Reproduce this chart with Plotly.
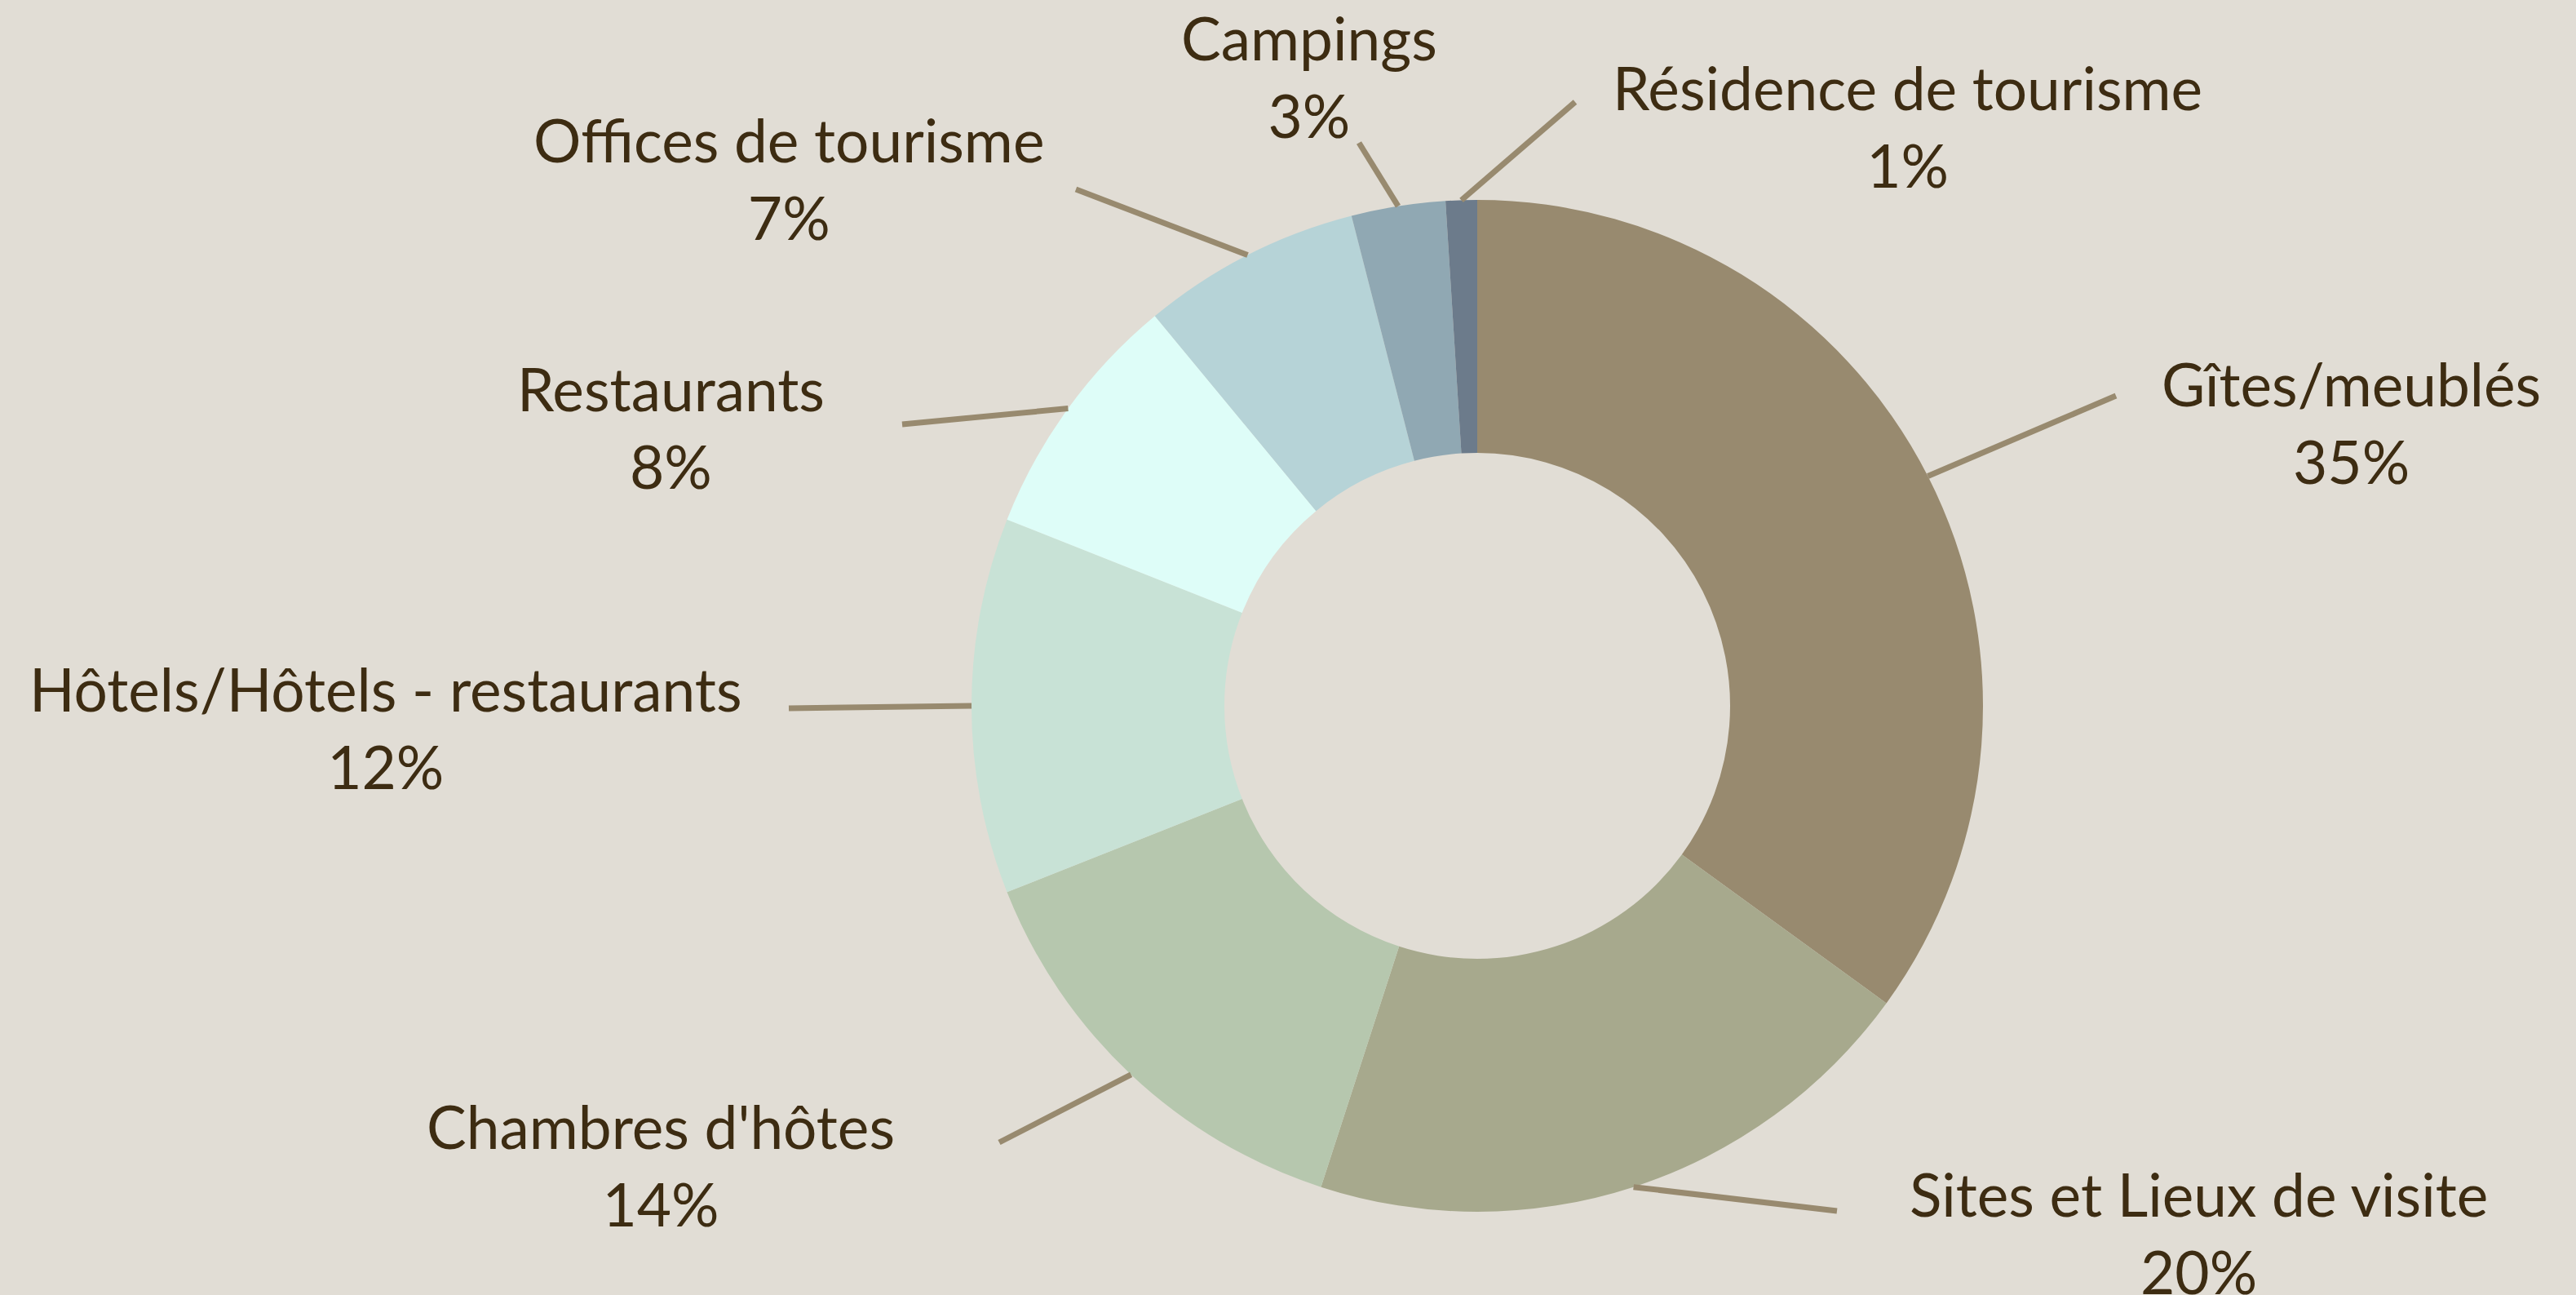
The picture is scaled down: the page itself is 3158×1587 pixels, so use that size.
import math
import plotly.graph_objects as go

# data
labels = ["Gîtes/meublés", "Sites et Lieux de visite", "Chambres d'hôtes",
          "Hôtels/Hôtels - restaurants", "Restaurants", "Offices de tourisme",
          "Campings", "Résidence de tourisme"]
values = [35, 20, 14, 12, 8, 7, 3, 1]
colors = ["#988A6F", "#A7A98D", "#B6C7AE", "#C8E2D6",
          "#DEFDF8", "#B6D3D7", "#90A8B3", "#6C7B8B"]

W, H = 3158, 1587
BG = "#E1DDD5"
TEXT = "#3D2C12"
LINE = "#988A6F"

# donut geometry (px)
cx, cy, R = 1811, 865, 620

# where each leader ends and where its label sits (px)
line_ends = [(2594, 485), (2252, 1484), (1225, 1400), (967, 868),
             (1106, 520), (1319, 232), (1666, 175), (1931, 125)]
label_pos = [(2882, 518), (2695, 1510), (810, 1427), (473, 891),
             (822, 523), (967, 219), (1605, 94), (2338, 155)]

def px(x, y):
    return x / W, 1 - y / H

fig = go.Figure()
fig.add_trace(go.Pie(
    labels=labels, values=values, hole=0.5, sort=False,
    direction="clockwise", rotation=0,
    marker=dict(colors=colors, line=dict(width=0)),
    textinfo="none", hoverinfo="label+percent",
    domain=dict(x=[(cx - R) / W, (cx + R) / W],
                y=[1 - (cy + R) / H, 1 - (cy - R) / H]),
    showlegend=False,
))

total = sum(values)
cum = 0
shapes, annotations = [], []
for lab, v, end, pos in zip(labels, values, line_ends, label_pos):
    mid = (cum + v / 2) / total * 2 * math.pi
    cum += v
    sx, sy = cx + R * math.sin(mid), cy - R * math.cos(mid)
    x0, y0 = px(sx, sy)
    x1, y1 = px(*end)
    shapes.append(dict(type="line", xref="paper", yref="paper",
                       x0=x0, y0=y0, x1=x1, y1=y1,
                       line=dict(color=LINE, width=7)))
    ax, ay = px(*pos)
    annotations.append(dict(
        x=ax, y=ay, xref="paper", yref="paper", showarrow=False,
        xanchor="center", yanchor="middle", align="center",
        text=f"{lab}<br>{v / total * 100:.0f}%",
        font=dict(family="Lato", size=73, color=TEXT)))

fig.update_layout(
    width=W, height=H,
    paper_bgcolor=BG, plot_bgcolor=BG,
    margin=dict(l=0, r=0, t=0, b=0),
    shapes=shapes, annotations=annotations,
)

fig.write_html("out.html", config={"displayModeBar": False},
               post_script="document.body.style.margin='0';")
